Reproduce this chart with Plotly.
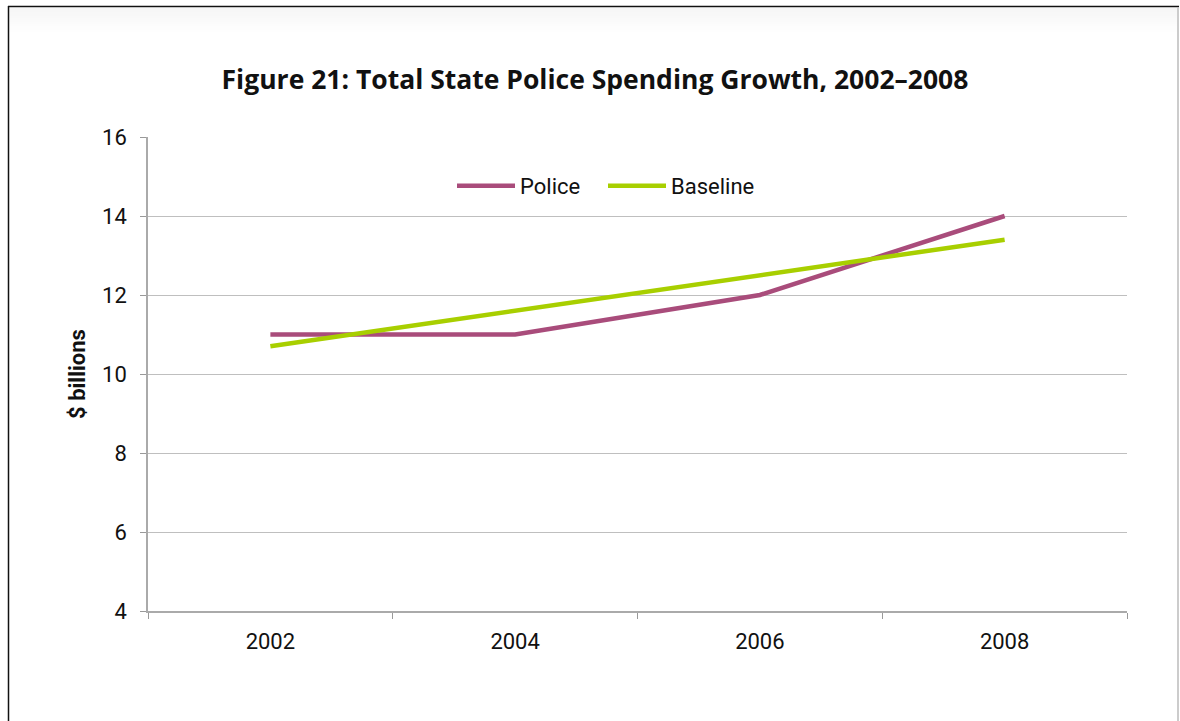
import plotly.graph_objects as go

# Spending series ($ billions)
years = ["2002", "2004", "2006", "2008"]
police = [11.0, 11.0, 12.0, 14.0]
baseline = [10.7, 11.6, 12.5, 13.4]

title_text = "Figure 21: Total State Police Spending Growth, 2002\u20132008"
y_title = "$ billions"

POLICE_COLOR = "#A94C7B"
BASELINE_COLOR = "#A8CF00"
GRID = "#BFBFBF"
TICK_FONT = "Roboto, Arial, sans-serif"

W, H = 1180, 721
L, R, T, B = 148, 53, 137, 110
pw, ph = W - L - R, H - T - B


def px_x(x):
    return (x - L) / pw


def px_y(y):
    return (H - B - y) / ph


fig = go.Figure()
fig.add_trace(go.Scatter(x=years, y=police, mode="lines", name="Police",
                         line=dict(color=POLICE_COLOR, width=4.5)))
fig.add_trace(go.Scatter(x=years, y=baseline, mode="lines", name="Baseline",
                         line=dict(color=BASELINE_COLOR, width=4.5)))

shapes = []
# soft shading under the top frame edge
for i in range(12):
    shapes.append(dict(type="rect", xref="paper", yref="paper",
                       x0=px_x(9), x1=px_x(1177), y0=px_y(8 + 2 * i + 2), y1=px_y(8 + 2 * i),
                       fillcolor="rgba(0,0,0,%.3f)" % (0.035 * (1 - i / 12)), line=dict(width=0),
                       layer="below"))
# frame
shapes.append(dict(type="line", xref="paper", yref="paper", x0=px_x(8.5), x1=px_x(8.5),
                   y0=px_y(6), y1=px_y(721), line=dict(color="#111111", width=1.5)))
shapes.append(dict(type="line", xref="paper", yref="paper", x0=px_x(8), x1=px_x(1179),
                   y0=px_y(6.5), y1=px_y(6.5), line=dict(color="#111111", width=1.5)))
shapes.append(dict(type="line", xref="paper", yref="paper", x0=px_x(1178), x1=px_x(1178),
                   y0=px_y(7), y1=px_y(721), line=dict(color="#BBBBBB", width=1.5)))

fig.update_layout(
    width=W, height=H,
    margin=dict(l=L, r=R, t=T, b=B),
    paper_bgcolor="white", plot_bgcolor="white",
    title=dict(text="<b>" + title_text + "</b>", x=595 / W, xanchor="center",
               y=1 - 80 / H, yanchor="middle",
               font=dict(family="Open Sans, sans-serif", size=26.5, color="#111111")),
    legend=dict(orientation="h", x=px_x(452), y=px_y(186), xanchor="left", yanchor="middle",
                font=dict(family=TICK_FONT, size=22, color="#111111"),
                bgcolor="rgba(0,0,0,0)", itemwidth=58, entrywidth=78, tracegroupgap=0),
    showlegend=True,
    shapes=shapes,
)

fig.update_xaxes(type="category", tickson="boundaries", ticks="outside", ticklen=6,
                 tickcolor="#999999", showline=True, linecolor="#AAAAAA", linewidth=1.5,
                 showgrid=False, range=[-0.5, 3.5], ticklabelstandoff=10,
                 tickfont=dict(family=TICK_FONT, size=22, color="#111111"))
fig.update_yaxes(range=[4, 16], dtick=2, ticks="outside", ticklen=6, tickcolor="#999999",
                 showline=True, linecolor="#AAAAAA", linewidth=1.5,
                 gridcolor=GRID, gridwidth=1.2, zeroline=False, ticklabelstandoff=9,
                 tickfont=dict(family=TICK_FONT, size=22, color="#111111"),
                 title=dict(text="<b>" + y_title + "</b>", standoff=10,
                            font=dict(family=TICK_FONT, size=22, color="#111111")))

fig.write_html("out.html")
